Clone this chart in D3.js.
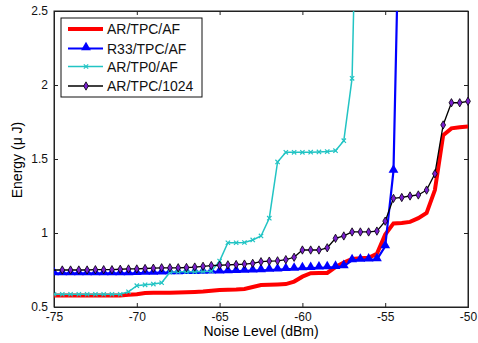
<!DOCTYPE html>
<html lang="en">
<head>
<meta charset="UTF-8">
<title>Energy vs Noise Level</title>
<script src="https://d3js.org/d3.v7.min.js"></script>
<style>
  body { margin: 0; background: #fff; }
  text { font-family: "Liberation Sans", Arial, sans-serif; }
</style>
</head>
<body>
<div id="chart"></div>
<script>
// ---- data ----
var seriesNames = ["AR/TPC/AF", "R33/TPC/AF", "AR/TP0/AF", "AR/TPC/1024"];

// AR/TPC/AF (red, no markers)
var redX = d3.range(-75, -49.99, 0.5);
var redY = [0.578, 0.578, 0.578, 0.578, 0.578, 0.578, 0.578, 0.578, 0.578,
            0.582, 0.586, 0.594, 0.597, 0.597, 0.597, 0.598, 0.600, 0.602,
            0.605, 0.610, 0.615, 0.617, 0.618, 0.622, 0.635, 0.649, 0.650,
            0.652, 0.655, 0.672, 0.705, 0.728, 0.729, 0.730, 0.770, 0.800,
            0.825, 0.830, 0.832, 0.860, 0.990, 1.065, 1.068, 1.075, 1.100,
            1.135, 1.290, 1.660, 1.707, 1.715, 1.720];

// R33/TPC/AF (blue, triangles)
var blueX = d3.range(-75, -53.99, 0.5);
var blueY = [0.727, 0.727, 0.727, 0.727, 0.727, 0.727, 0.727, 0.727, 0.727,
             0.727, 0.728, 0.730, 0.731, 0.732, 0.733, 0.734, 0.735, 0.736,
             0.737, 0.738, 0.738, 0.740, 0.742, 0.744, 0.746, 0.748, 0.750,
             0.752, 0.755, 0.757, 0.760, 0.762, 0.765, 0.767, 0.770, 0.775,
             0.815, 0.818, 0.820, 0.822, 0.910, 1.420, 4.000];

// AR/TP0/AF (cyan, x markers)
var cyanX = d3.range(-75, -56.49, 0.5);
var cyanY = [0.586, 0.586, 0.586, 0.586, 0.586, 0.586, 0.586, 0.586, 0.586,
             0.603, 0.644, 0.650, 0.655, 0.664, 0.735, 0.738, 0.739, 0.739,
             0.740, 0.742, 0.810, 0.934, 0.934, 0.936, 0.953, 0.980, 1.100,
             1.480, 1.545, 1.545, 1.545, 1.546, 1.548, 1.550, 1.556, 1.624,
             2.045, 4.500];

// AR/TPC/1024 (black, purple diamonds)
var blackX = d3.range(-75, -49.99, 0.5);
var blackY = [0.750, 0.750, 0.750, 0.750, 0.750, 0.752, 0.752, 0.752, 0.755,
              0.757, 0.757, 0.760, 0.762, 0.765, 0.765, 0.765, 0.767, 0.770,
              0.775, 0.780, 0.782, 0.785, 0.787, 0.790, 0.795, 0.806, 0.810,
              0.812, 0.820, 0.836, 0.885, 0.885, 0.885, 0.900, 0.964, 0.980,
              1.007, 1.007, 1.007, 1.013, 1.080, 1.234, 1.240, 1.250, 1.257,
              1.290, 1.400, 1.730, 1.880, 1.880, 1.890];

var xTicks = [-75, -70, -65, -60, -55, -50];
var yTicks = [0.5, 1, 1.5, 2, 2.5];

// ---- layout ----
var W = 478, H = 343;
var mLeft = 54, mRight = 468, mTop = 11, mBottom = 307;

var svg = d3.select("#chart").append("svg")
  .attr("width", W).attr("height", H);

var x = d3.scaleLinear().domain([-75, -50]).range([mLeft, mRight]);
var y = d3.scaleLinear().domain([0.5, 2.5]).range([mBottom, mTop]);

svg.append("rect")
  .attr("x", 0).attr("y", 0).attr("width", W).attr("height", H)
  .attr("fill", "#fff");

svg.append("clipPath").attr("id", "plotclip")
  .append("rect")
  .attr("x", mLeft).attr("y", mTop)
  .attr("width", mRight - mLeft).attr("height", mBottom - mTop);

var plain = function(d) { return String(d); };

// axes (ticks pointing inward, MATLAB style)
svg.append("g")
  .attr("transform", "translate(0," + mBottom + ")")
  .call(d3.axisBottom(x).tickValues(xTicks).tickSize(-4).tickPadding(5)
    .tickFormat(plain));
svg.append("g")
  .attr("transform", "translate(0," + mTop + ")")
  .call(d3.axisTop(x).tickValues(xTicks).tickSize(-4).tickFormat(""));
svg.append("g")
  .attr("transform", "translate(" + mLeft + ",0)")
  .call(d3.axisLeft(y).tickValues(yTicks).tickSize(-4).tickPadding(6)
    .tickFormat(plain));
svg.append("g")
  .attr("transform", "translate(" + mRight + ",0)")
  .call(d3.axisRight(y).tickValues(yTicks).tickSize(-4).tickFormat(""));

svg.selectAll(".domain").attr("stroke", "#222");
svg.selectAll(".tick line").attr("stroke", "#222");
svg.selectAll(".tick text")
  .style("font-size", "12px")
  .attr("fill", "#111");

// box
svg.append("rect")
  .attr("x", mLeft).attr("y", mTop)
  .attr("width", mRight - mLeft).attr("height", mBottom - mTop)
  .attr("fill", "none").attr("stroke", "#222");

// axis labels
svg.append("text")
  .attr("x", (mLeft + mRight) / 2).attr("y", 336)
  .attr("text-anchor", "middle")
  .style("font-size", "14px")
  .text("Noise Level (dBm)");
svg.append("text")
  .attr("transform", "translate(22," + ((mTop + mBottom) / 2 + 1) + ") rotate(-90)")
  .attr("text-anchor", "middle")
  .style("font-size", "14px")
  .text("Energy (\u03bc J)");

function pts(xs, ys) {
  return xs.map(function(v, i) { return {x: v, y: ys[i]}; });
}

var line = d3.line()
  .x(function(d) { return x(d.x); })
  .y(function(d) { return y(d.y); });

var plot = svg.append("g").attr("clip-path", "url(#plotclip)");

var redData = pts(redX, redY);
var blueData = pts(blueX, blueY);
var cyanData = pts(cyanX, cyanY);
var blackData = pts(blackX, blackY);

var colors = {red: "#ff0000", blue: "#0000ff", cyan: "#22c4c4", black: "#000000", purple: "#7a1fd0"};

var triangle = d3.symbol().type(d3.symbolTriangle).size(42);
var cross = d3.symbol().type(d3.symbolTimes).size(14);
var diamond = d3.symbol().type(d3.symbolDiamond).size(20);

// red
plot.append("path").datum(redData)
  .attr("d", line).attr("fill", "none")
  .attr("stroke", colors.red).attr("stroke-width", 4);

// blue
plot.append("path").datum(blueData)
  .attr("d", line).attr("fill", "none")
  .attr("stroke", colors.blue).attr("stroke-width", 2.2);
plot.selectAll(".tri").data(blueData).enter().append("path")
  .attr("class", "tri")
  .attr("transform", function(d) { return "translate(" + x(d.x) + "," + (y(d.y) - 1) + ")"; })
  .attr("d", triangle).attr("fill", colors.blue);

// cyan
plot.append("path").datum(cyanData)
  .attr("d", line).attr("fill", "none")
  .attr("stroke", colors.cyan).attr("stroke-width", 1.5);
plot.selectAll(".crs").data(cyanData).enter().append("path")
  .attr("class", "crs")
  .attr("transform", function(d) { return "translate(" + x(d.x) + "," + y(d.y) + ")"; })
  .attr("d", cross).attr("fill", "none")
  .attr("stroke", colors.cyan).attr("stroke-width", 1.2);

// black
plot.append("path").datum(blackData)
  .attr("d", line).attr("fill", "none")
  .attr("stroke", colors.black).attr("stroke-width", 1.3);
svg.selectAll(".dia").data(blackData.filter(function(d) { return d.x > -75; }))
  .enter().append("path")
  .attr("class", "dia")
  .attr("transform", function(d) { return "translate(" + x(d.x) + "," + y(d.y) + ")"; })
  .attr("d", diamond).attr("fill", colors.purple)
  .attr("stroke", colors.black).attr("stroke-width", 0.8);

// legend
var lg = svg.append("g");
lg.append("rect")
  .attr("x", 61).attr("y", 18).attr("width", 141).attr("height", 79)
  .attr("fill", "#fff").attr("stroke", "#111");

var legendRows = [
  {name: seriesNames[0], color: colors.red, width: 4, marker: null},
  {name: seriesNames[1], color: colors.blue, width: 2, marker: "tri"},
  {name: seriesNames[2], color: colors.cyan, width: 1.5, marker: "crs"},
  {name: seriesNames[3], color: colors.black, width: 1.3, marker: "dia"}
];
var rowY = [29, 48.5, 66.5, 86];

legendRows.forEach(function(r, i) {
  var yy = rowY[i];
  lg.append("line")
    .attr("x1", 68).attr("x2", 103).attr("y1", yy).attr("y2", yy)
    .attr("stroke", r.color).attr("stroke-width", r.width);
  if (r.marker === "tri") {
    lg.append("path").attr("transform", "translate(86," + (yy - 1) + ")")
      .attr("d", triangle).attr("fill", r.color);
  } else if (r.marker === "crs") {
    lg.append("path").attr("transform", "translate(86," + yy + ")")
      .attr("d", cross).attr("fill", "none").attr("stroke", r.color).attr("stroke-width", 1.2);
  } else if (r.marker === "dia") {
    lg.append("path").attr("transform", "translate(86," + yy + ")")
      .attr("d", diamond).attr("fill", colors.purple).attr("stroke", "#000").attr("stroke-width", 0.8);
  }
  lg.append("text")
    .attr("x", 107).attr("y", yy + 5)
    .style("font-size", "14px")
    .attr("fill", "#111")
    .text(r.name);
});
</script>
</body>
</html>
